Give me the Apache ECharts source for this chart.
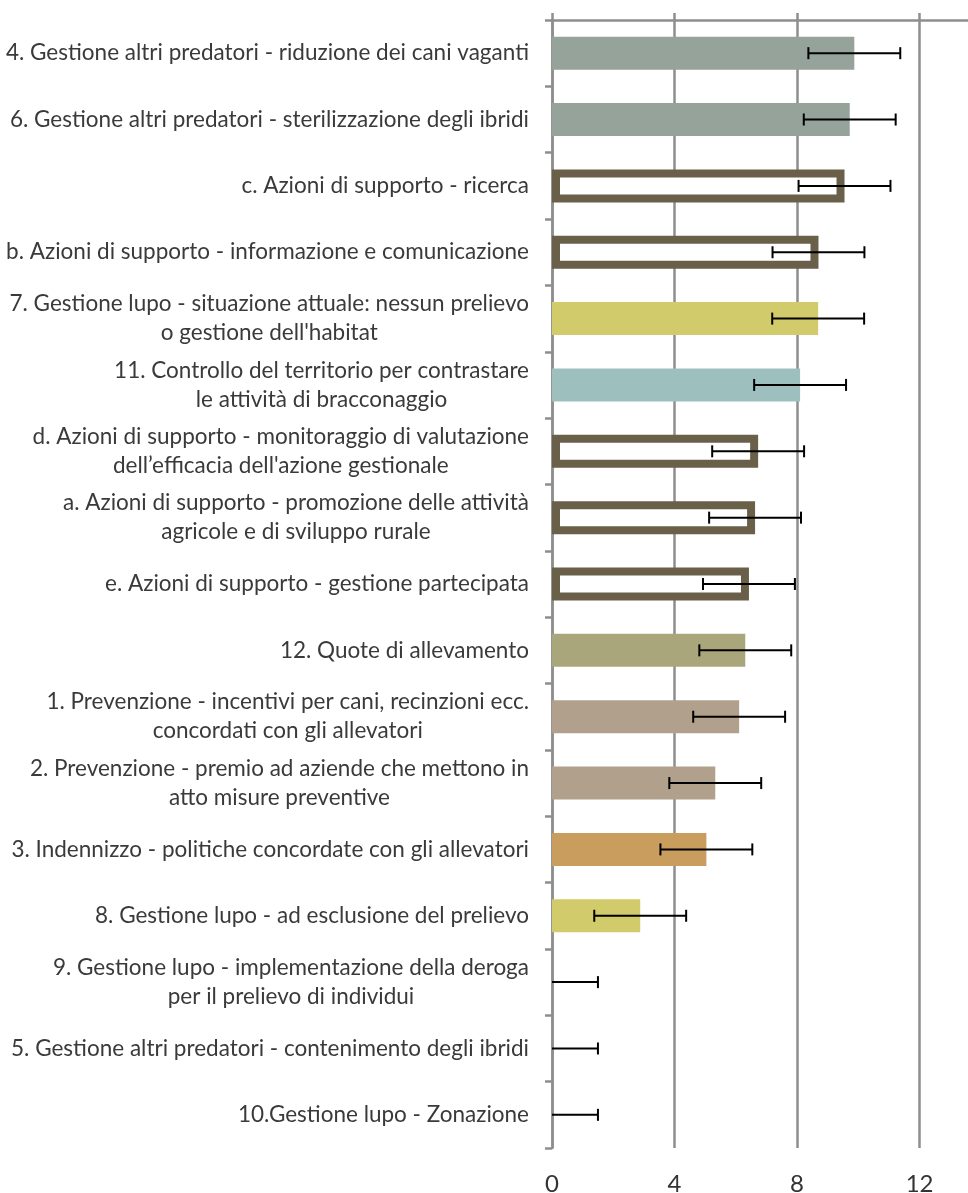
<!DOCTYPE html>
<html>
<head>
<meta charset="utf-8">
<script src="https://cdn.jsdelivr.net/npm/echarts@6/dist/echarts.min.js"></script>
<style>
html,body{margin:0;padding:0;background:#fff;}
#chart{width:968px;height:1193px;}
</style>
</head>
<body>
<div id="chart"></div>
<script>
// ---- data ----
var categories = [
  "4. Gestione altri predatori - riduzione dei cani vaganti",
  "6. Gestione altri predatori - sterilizzazione degli ibridi",
  "c. Azioni di supporto - ricerca",
  "b. Azioni di supporto - informazione e comunicazione",
  "7. Gestione lupo - situazione attuale: nessun prelievo\no gestione dell'habitat",
  "11. Controllo del territorio per contrastare\nle attività di bracconaggio",
  "d. Azioni di supporto - monitoraggio di valutazione\ndell’efficacia dell'azione gestionale",
  "a. Azioni di supporto - promozione delle attività\nagricole e di sviluppo rurale",
  "e. Azioni di supporto - gestione partecipata",
  "12. Quote di allevamento",
  "1. Prevenzione - incentivi per cani, recinzioni ecc.\nconcordati con gli allevatori",
  "2. Prevenzione - premio ad aziende che mettono in\natto misure preventive",
  "3. Indennizzo - politiche concordate con gli allevatori",
  "8. Gestione lupo - ad esclusione del prelievo",
  "9. Gestione lupo - implementazione della deroga\nper il prelievo di individui",
  "5. Gestione altri predatori - contenimento degli ibridi",
  "10.Gestione lupo - Zonazione"
];
var values = [9.87, 9.72, 9.55, 8.70, 8.69, 8.10, 6.73, 6.63, 6.43, 6.31, 6.11, 5.33, 5.04, 2.88, 0, 0, 0];
var errors = [1.5, 1.5, 1.5, 1.5, 1.5, 1.5, 1.5, 1.5, 1.5, 1.5, 1.5, 1.5, 1.5, 1.5, 1.5, 1.5, 1.5];
var xTicks = [0, 4, 8, 12];

// ---- styles (per category) ----
var GG = {color:'#95a39a'}, OUT = {color:'#ffffff', borderColor:'#6a604a', borderWidth:8},
    YEL = {color:'#d2cb6c'}, TEAL = {color:'#9dbfbd'}, OLV = {color:'#aaa67c'},
    TAN = {color:'#b1a08b'}, ORA = {color:'#c89d5e'}, NONE = {color:'#ffffff'};
var barStyles = [GG, GG, OUT, OUT, YEL, TEAL, OUT, OUT, OUT, OLV, TAN, TAN, ORA, YEL, NONE, NONE, NONE];

var FONT = 'Lato';
var chart = echarts.init(document.getElementById('chart'));
var gridColor = '#8e8e8e';

var option = {
  animation: false,
  grid: {left: 552, top: 20, width: 14 * 30.63, height: 1128, containLabel: false, outerBoundsMode: 'none'},
  xAxis: [{
    type: 'value', min: 0, max: 14, interval: 4, position: 'bottom',
    axisLine: {show: false}, axisTick: {show: false},
    splitLine: {show: true, lineStyle: {color: gridColor, width: 2.5}},
    axisLabel: {fontFamily: FONT, fontSize: 24, color: '#333333', margin: 24,
      formatter: function(v){ return xTicks.indexOf(v) >= 0 ? String(v) : ''; }}
  }, {
    type: 'value', min: 0, max: 14, interval: 4, position: 'top',
    axisLine: {show: true, lineStyle: {color: gridColor, width: 2.5}},
    axisTick: {show: true, length: 7, lineStyle: {color: gridColor, width: 2.5}},
    axisLabel: {show: false}, splitLine: {show: false}
  }],
  yAxis: {
    type: 'category', data: categories, inverse: true,
    axisLine: {show: true, lineStyle: {color: gridColor, width: 2.5}},
    axisTick: {show: true, length: 7, lineStyle: {color: gridColor, width: 2.5}},
    axisLabel: {
      margin: 23, fontFamily: FONT,
      formatter: function(v){ return v.split('\n').map(function(s){ return '{c|' + s + '}'; }).join('\n'); },
      rich: {c: {align: 'center', fontFamily: FONT, fontSize: 22.5, lineHeight: 29, color: '#3a3a3a'}}
    }
  },
  series: [{
    type: 'bar', barWidth: 33, clip: true,
    data: values.map(function(v, i){ return {value: v, itemStyle: barStyles[i]}; }),
    z: 2
  }, {
    type: 'custom', clip: true, z: 5,
    data: values.map(function(v, i){ return [i, v, errors[i]]; }),
    renderItem: function(params, api){
      var i = api.value(0), v = api.value(1), e = api.value(2);
      var p1 = api.coord([v - e, i]), p2 = api.coord([v + e, i]);
      var h = 6;
      var st = {stroke: '#000', lineWidth: 2};
      return {type: 'group', children: [
        {type: 'line', shape: {x1: p1[0], y1: p1[1], x2: p2[0], y2: p2[1]}, style: st},
        {type: 'line', shape: {x1: p1[0], y1: p1[1] - h, x2: p1[0], y2: p1[1] + h}, style: st},
        {type: 'line', shape: {x1: p2[0], y1: p2[1] - h, x2: p2[0], y2: p2[1] + h}, style: st}
      ]};
    }
  }]
};
chart.setOption(option);
</script>
</body>
</html>
